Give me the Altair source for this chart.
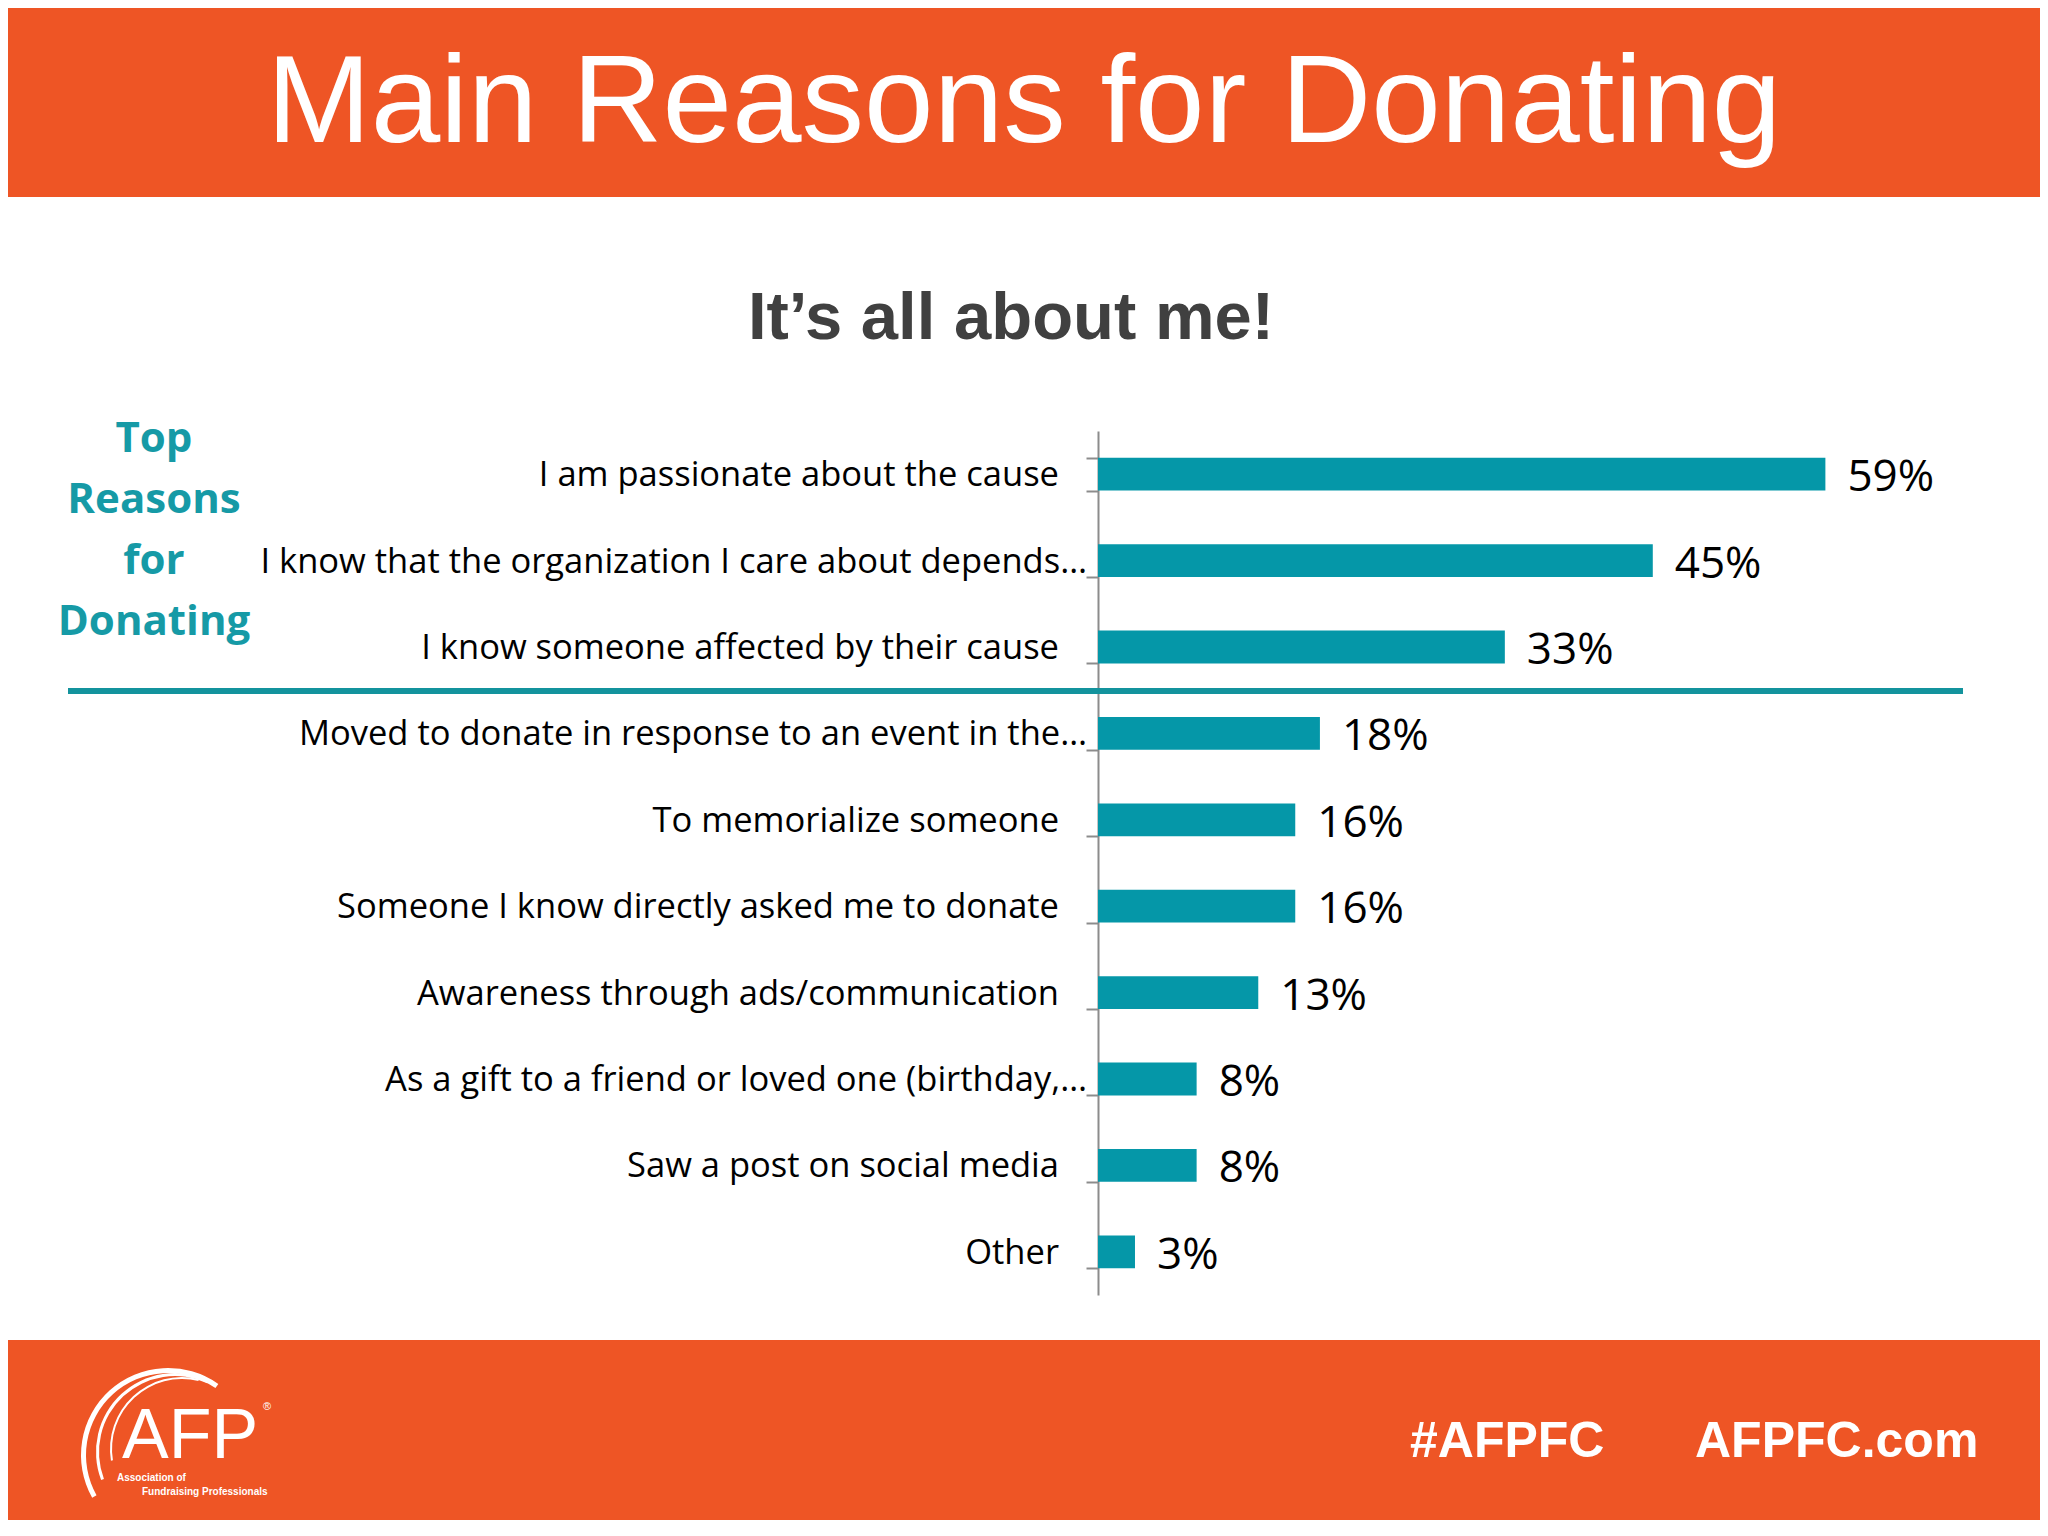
import altair as alt
import pandas as pd

# ---------------- data ----------------
categories = [
    "I am passionate about the cause",
    "I know that the organization I care about depends…",
    "I know someone affected by their cause",
    "Moved to donate in response to an event in the…",
    "To memorialize someone",
    "Someone I know directly asked me to donate",
    "Awareness through ads/communication",
    "As a gift to a friend or loved one (birthday,…",
    "Saw a post on social media",
    "Other",
]
values = [59, 45, 33, 18, 16, 16, 13, 8, 8, 3]
value_labels = [f"{v}%" for v in values]
truncated = [c.endswith("…") for c in categories]

title_text = "Main Reasons for Donating"
subtitle_text = "It’s all about me!"
side_lines = ["Top", "Reasons", "for", "Donating"]
footer_tag = "#AFPFC"
footer_site = "AFPFC.com"
logo_main = "AFP"
logo_reg = "®"
logo_sub1 = "Association of"
logo_sub2 = "Fundraising Professionals"

# ---------------- style ----------------
ORANGE = "#EE5525"
TEAL = "#0597A8"
SEP = "#13939D"
SIDE = "#169AA6"
GRAY = "#8C8C8C"

# page position of plot origin (top-left of the bar area)
OX, OY = 1098, 431
W, H = 863, 864


def px(x):
    return x - OX


def py(y):
    return y - OY


one = pd.DataFrame({"k": [0]})


def rect(x1, x2, y1, y2, color):
    return alt.Chart(one).mark_rect(color=color).encode(
        x=alt.value(px(x1)), x2=alt.value(px(x2)),
        y=alt.value(py(y1)), y2=alt.value(py(y2)),
    )


def label(txt, x, y, size, color, font, weight="normal", align="center", **kw):
    return alt.Chart(one).mark_text(
        text=txt, fontSize=size, color=color, font=font, fontWeight=weight,
        align=align, baseline="alphabetic", **kw
    ).encode(x=alt.value(px(x)), y=alt.value(py(y)))


def arc(cx, cy, r1, r2, t1, t2):
    return alt.Chart(one).mark_arc(
        color="white", innerRadius=r1, outerRadius=r2, theta=t1, theta2=t2
    ).encode(x=alt.value(px(cx)), y=alt.value(py(cy)))


df = pd.DataFrame({"reason": categories, "pct": values, "lbl": value_labels,
                   "trunc": truncated})

yaxis = alt.Axis(
    title=None, grid=False, labels=False,
    domainColor=GRAY, domainWidth=2,
    tickColor=GRAY, tickWidth=2, tickSize=12, tickBand="extent",
)
yscale = alt.Scale(paddingInner=0.62, paddingOuter=0.31)
yenc = alt.Y("reason:N", sort=categories, scale=yscale, axis=yaxis)
xenc = alt.X("pct:Q", scale=alt.Scale(domain=[0, 70]), axis=None)

bars = alt.Chart(df).mark_bar(color=TEAL).encode(x=xenc, y=yenc)
vals = alt.Chart(df).mark_text(
    align="left", baseline="middle", dx=22, dy=4,
    font="Open Sans", fontSize=44, color="#000000",
).encode(x=xenc, y=yenc, text="lbl:N")

# category labels (placed along the band scale, to the left of the axis)
cat_normal = alt.Chart(df).transform_filter("!datum.trunc").mark_text(
    align="right", baseline="middle", dy=2, font="Open Sans", fontSize=34.5, color="#000000",
).encode(x=alt.value(-39), y=yenc, text="reason:N")
cat_trunc = alt.Chart(df).transform_filter("datum.trunc").mark_text(
    align="right", baseline="middle", dy=2, font="Open Sans", fontSize=34.5, color="#000000",
).encode(x=alt.value(-11), y=yenc, text="reason:N")

header = rect(8, 2040, 8, 197, ORANGE)
footer = rect(8, 2040, 1340, 1520, ORANGE)
title = label(title_text, 1024, 142, 125, "white", "Liberation Sans")
subtitle = label(subtitle_text, 1011, 339, 67, "#404040", "Liberation Sans", weight="bold")
side = label(side_lines, 154, 452, 42, SIDE, "Open Sans", weight="bold", lineHeight=61)
sep = alt.Chart(one).mark_rule(color=SEP, strokeWidth=6).encode(
    x=alt.value(px(68)), x2=alt.value(px(1963)), y=alt.value(py(691))
)

tag = label(footer_tag, 1410, 1457, 50, "white", "Liberation Sans", weight="bold", align="left")
site = label(footer_site, 1695, 1457, 50, "white", "Liberation Sans", weight="bold", align="left")

logo_a = label(logo_main, 190, 1458, 70, "white", "Liberation Sans")
logo_r = label(logo_reg, 267, 1410, 11, "white", "Liberation Sans")
logo_s1 = label(logo_sub1, 117, 1481, 10, "white", "Liberation Sans", weight="bold", align="left")
logo_s2 = label(logo_sub2, 142, 1495, 10, "white", "Liberation Sans", weight="bold", align="left")
arc1 = arc(168, 1455, 82, 87, 4.2, 6.9)
arc2 = arc(175, 1452, 76, 79, 4.35, 6.72)
arc3 = arc(182, 1449, 70, 72, 4.55, 6.52)

chart = alt.layer(
    header, footer, title, subtitle, side, sep, bars, vals, cat_normal, cat_trunc,
    tag, site, arc1, arc2, arc3, logo_a, logo_r, logo_s1, logo_s2,
).properties(
    width=W, height=H, padding=0, background="white"
).configure_view(stroke=None)

chart.save("out.html", embed_options={"renderer": "svg", "actions": False})
